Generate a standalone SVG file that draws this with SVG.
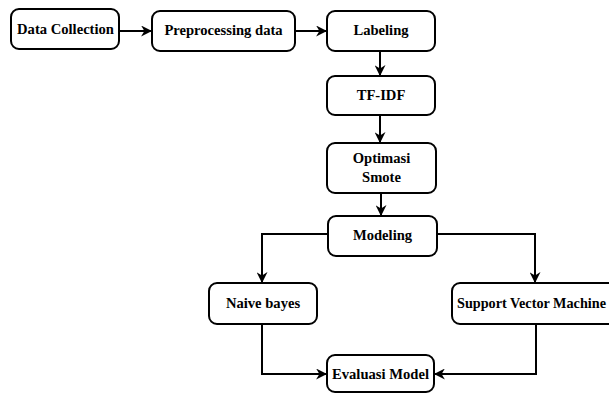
<svg xmlns="http://www.w3.org/2000/svg" width="609" height="394" viewBox="0 0 609 394">
<style>
.box{fill:#fff;stroke:#000;stroke-width:2}
text{font-family:'Liberation Serif','Times New Roman',serif;font-weight:bold;font-size:14.6px;fill:#000;text-anchor:middle}
.c{fill:none;stroke:#000;stroke-width:2}
</style>
<defs>
<marker id="ah" viewBox="0 0 10 10" refX="9" refY="5" markerWidth="5.5" markerHeight="5.5" orient="auto" markerUnits="strokeWidth">
<path d="M0,0 L10,5 L0,10 L3,5 Z" fill="#000"/>
</marker>
</defs>
<g id="connectors">
<line class="c" x1="119" y1="31" x2="151" y2="31" marker-end="url(#ah)"/>
<line class="c" x1="295" y1="31" x2="326" y2="31" marker-end="url(#ah)"/>
<line class="c" x1="380" y1="51" x2="380" y2="75" marker-end="url(#ah)"/>
<line class="c" x1="380" y1="115" x2="380" y2="142" marker-end="url(#ah)"/>
<line class="c" x1="381" y1="193" x2="381" y2="215" marker-end="url(#ah)"/>
<polyline class="c" points="328,234 262,234 262,282" marker-end="url(#ah)"/>
<polyline class="c" points="437,234 535,234 535,282" marker-end="url(#ah)"/>
<polyline class="c" points="262,324 262,374 326,374" marker-end="url(#ah)"/>
<polyline class="c" points="536,324 536,374 435,374" marker-end="url(#ah)"/>
</g>
<g id="data-collection"><rect class="box" x="11" y="9" width="108" height="40" rx="8"/><text x="65.5" y="33.5">Data Collection</text></g>
<g id="preprocessing"><rect class="box" x="152" y="11" width="143" height="40" rx="8"/><text x="223.5" y="35">Preprocessing data</text></g>
<g id="labeling"><rect class="box" x="327" y="11" width="108" height="40" rx="8"/><text x="381" y="35">Labeling</text></g>
<g id="tfidf"><rect class="box" x="327" y="76" width="108" height="39" rx="8"/><text x="381" y="100">TF-IDF</text></g>
<g id="smote"><rect class="box" x="327" y="143" width="109" height="50" rx="8"/><text x="381.5" y="163">Optimasi</text><text x="381.5" y="182">Smote</text></g>
<g id="modeling"><rect class="box" x="328" y="216" width="109" height="40" rx="8"/><text x="382.5" y="240">Modeling</text></g>
<g id="naive-bayes"><rect class="box" x="209" y="283" width="108" height="41" rx="8"/><text x="263" y="308">Naive bayes</text></g>
<g id="svm"><rect class="box" x="452" y="283" width="170" height="41" rx="8"/><text x="457" y="308" style="text-anchor:start" textLength="149" lengthAdjust="spacingAndGlyphs">Support Vector Machine</text></g>
<g id="evaluasi"><rect class="box" x="327" y="355" width="107" height="37" rx="8"/><text x="380.5" y="379">Evaluasi Model</text></g>
</svg>
